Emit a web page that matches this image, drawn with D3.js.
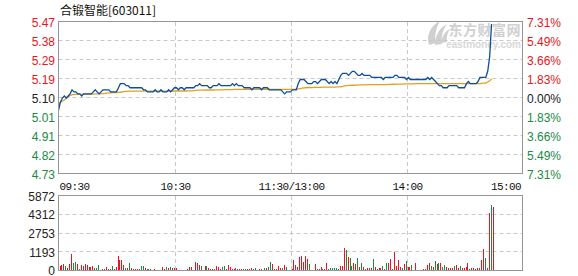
<!DOCTYPE html>
<html>
<head>
<meta charset="utf-8">
<script src="https://cdn.jsdelivr.net/npm/d3@7"></script>
<style>
    body { margin: 0; background: #fff; }
    text { font-family: "Liberation Sans", Arial, sans-serif; }
</style>
</head>
<body>
<div id="chart"></div>
<script>
var svgWidth = 578;
var svgHeight = 276;

var title = "合锻智能[603011]";
var preClose = 5.10;

// price axis labels, top to bottom
var priceTicks = ["5.47", "5.38", "5.29", "5.19", "5.10", "5.01", "4.91", "4.82", "4.73"];
var pctTicks = ["7.31%", "5.49%", "3.66%", "1.83%", "0.00%", "1.83%", "3.66%", "5.49%", "7.31%"];
var volTicks = ["0", "1193", "2753", "4312", "5872"];
var timeLabels = ["09:30", "10:30", "11:30/13:00", "14:00", "15:00"];
var timeMinutes = [0, 60, 120, 180, 240];

// one value per minute, 09:30 .. 14:44
var price = [
    5.04, 5.08, 5.10, 5.11, 5.10, 5.11, 5.12, 5.14, 5.13, 5.13, 5.12, 5.12, 5.11, 5.12, 5.12,
    5.12, 5.12, 5.12, 5.13, 5.14, 5.13, 5.12, 5.13, 5.14, 5.14, 5.14, 5.14, 5.13, 5.13, 5.13,
    5.13, 5.15, 5.17, 5.17, 5.17, 5.16, 5.16, 5.15, 5.15, 5.15, 5.15, 5.15, 5.15, 5.15, 5.14,
    5.14, 5.13, 5.13, 5.13, 5.13, 5.14, 5.13, 5.13, 5.14, 5.13, 5.13, 5.13, 5.14, 5.13, 5.14,
    5.15, 5.15, 5.14, 5.15, 5.15, 5.14, 5.15, 5.15, 5.15, 5.15, 5.15, 5.16, 5.16, 5.17, 5.16,
    5.16, 5.16, 5.16, 5.15, 5.15, 5.16, 5.16, 5.16, 5.17, 5.16, 5.16, 5.16, 5.16, 5.16, 5.16,
    5.17, 5.16, 5.17, 5.16, 5.16, 5.16, 5.15, 5.15, 5.15, 5.15, 5.14, 5.15, 5.15, 5.15, 5.15,
    5.14, 5.15, 5.15, 5.15, 5.14, 5.14, 5.14, 5.14, 5.14, 5.14, 5.14, 5.13, 5.12, 5.13, 5.13,
    5.13, 5.14, 5.14, 5.14, 5.17, 5.19, 5.19, 5.19, 5.18, 5.17, 5.17, 5.17, 5.18, 5.18, 5.17,
    5.18, 5.19, 5.19, 5.19, 5.18, 5.17, 5.18, 5.17, 5.18, 5.17, 5.19, 5.21, 5.22, 5.22, 5.22,
    5.21, 5.22, 5.23, 5.23, 5.22, 5.21, 5.21, 5.22, 5.21, 5.21, 5.21, 5.21, 5.20, 5.20, 5.20,
    5.20, 5.20, 5.20, 5.19, 5.20, 5.20, 5.20, 5.20, 5.20, 5.21, 5.21, 5.20, 5.20, 5.20, 5.20,
    5.19, 5.20, 5.19, 5.19, 5.19, 5.19, 5.19, 5.19, 5.19, 5.19, 5.19, 5.20, 5.19, 5.20, 5.19,
    5.18, 5.17, 5.16, 5.16, 5.15, 5.15, 5.15, 5.16, 5.16, 5.16, 5.16, 5.16, 5.15, 5.15, 5.15,
    5.15, 5.17, 5.18, 5.17, 5.17, 5.17, 5.17, 5.18, 5.20, 5.20, 5.20, 5.20, 5.23, 5.30, 5.46
];

var avgPrice = [
    5.065, 5.080, 5.085, 5.090, 5.097, 5.105, 5.112, 5.116, 5.117, 5.118, 5.118, 5.118, 5.118, 5.118, 5.118,
    5.118, 5.119, 5.119, 5.119, 5.120, 5.120, 5.120, 5.121, 5.121, 5.122, 5.124, 5.125, 5.125, 5.126, 5.126,
    5.126, 5.127, 5.128, 5.130, 5.131, 5.132, 5.132, 5.133, 5.133, 5.133, 5.133, 5.133, 5.133, 5.133, 5.133,
    5.133, 5.133, 5.133, 5.133, 5.133, 5.133, 5.133, 5.133, 5.133, 5.133, 5.133, 5.133, 5.133, 5.133, 5.134,
    5.134, 5.134, 5.134, 5.134, 5.134, 5.134, 5.134, 5.135, 5.135, 5.135, 5.136, 5.137, 5.138, 5.138, 5.138,
    5.138, 5.139, 5.139, 5.139, 5.139, 5.139, 5.140, 5.140, 5.140, 5.140, 5.140, 5.141, 5.141, 5.141, 5.141,
    5.141, 5.142, 5.142, 5.142, 5.142, 5.142, 5.142, 5.142, 5.142, 5.142, 5.142, 5.142, 5.142, 5.142, 5.142,
    5.142, 5.142, 5.142, 5.142, 5.142, 5.142, 5.142, 5.142, 5.142, 5.142, 5.142, 5.142, 5.142, 5.142, 5.142,
    5.142, 5.142, 5.142, 5.143, 5.144, 5.146, 5.148, 5.149, 5.150, 5.151, 5.151, 5.151, 5.152, 5.152, 5.152,
    5.152, 5.152, 5.153, 5.153, 5.153, 5.153, 5.153, 5.153, 5.153, 5.154, 5.154, 5.154, 5.157, 5.159, 5.160,
    5.161, 5.161, 5.162, 5.162, 5.163, 5.163, 5.164, 5.164, 5.164, 5.164, 5.165, 5.165, 5.165, 5.165, 5.165,
    5.165, 5.165, 5.165, 5.165, 5.165, 5.165, 5.166, 5.166, 5.167, 5.167, 5.168, 5.168, 5.168, 5.168, 5.169,
    5.169, 5.169, 5.169, 5.169, 5.170, 5.170, 5.170, 5.170, 5.170, 5.170, 5.170, 5.170, 5.170, 5.170, 5.170,
    5.170, 5.170, 5.170, 5.170, 5.170, 5.170, 5.170, 5.170, 5.170, 5.170, 5.170, 5.170, 5.170, 5.170, 5.170,
    5.170, 5.170, 5.170, 5.170, 5.170, 5.170, 5.170, 5.170, 5.170, 5.171, 5.172, 5.172, 5.178, 5.184, 5.192
];

var volume = [
    391, 470, 548, 391, 235, 548, 1331, 626, 705, 548, 156, 470, 391, 548, 470,
    313, 313, 391, 235, 235, 470, 78, 156, 156, 313, 156, 156, 391, 156, 313,
    1174, 861, 861, 470, 235, 235, 626, 235, 156, 156, 156, 156, 391, 391, 235,
    156, 156, 156, 78, 156, 78, 78, 78, 313, 156, 313, 235, 313, 235, 235,
    235, 78, 78, 78, 78, 78, 156, 313, 313, 78, 705, 626, 470, 391, 78,
    391, 391, 235, 156, 156, 156, 391, 313, 156, 313, 391, 156, 470, 313, 156,
    156, 235, 156, 156, 156, 156, 156, 156, 156, 235, 156, 235, 78, 156, 156,
    78, 235, 235, 313, 705, 548, 156, 156, 391, 235, 235, 470, 313, 78, 78,
    156, 861, 470, 313, 1096, 1174, 705, 1174, 940, 548, 78, 78, 548, 156, 156,
    313, 156, 156, 626, 156, 235, 235, 235, 235, 156, 391, 391, 1800, 1644, 1096,
    1018, 391, 626, 548, 1018, 313, 626, 313, 156, 235, 235, 235, 940, 313, 156,
    235, 235, 391, 156, 626, 626, 940, 156, 1487, 391, 861, 313, 235, 548, 783,
    313, 313, 470, 78, 626, 78, 78, 78, 156, 156, 470, 626, 391, 313, 783,
    548, 626, 626, 313, 470, 313, 235, 235, 235, 391, 470, 235, 391, 235, 235,
    313, 626, 156, 235, 235, 156, 235, 235, 861, 1722, 1018, 235, 4540, 5167, 5010
];

// r = up bar, g = down bar
var volDir = [
    "r","r","r","g","r","r","r","g","g","r","g","r","r","r","r",
    "r","r","r","g","g","g","r","r","r","r","g","r","g","r","r",
    "r","r","r","r","g","r","g","r","r","r","r","r","g","g","r",
    "g","g","r","r","r","r","g","g","r","r","g","r","g","r","r",
    "r","g","g","r","r","r","r","r","r","g","r","r","r","g","r",
    "r","g","r","r","r","g","r","r","r","g","g","r","r","r","r",
    "r","r","g","r","r","g","g","r","r","r","r","g","r","r","r",
    "r","g","r","g","g","r","g","r","r","r","g","r","g","r","r",
    "r","r","r","r","r","r","r","r","r","g","r","r","r","r","r",
    "r","r","r","r","g","g","g","g","g","r","r","r","r","g","r",
    "g","g","r","r","g","r","g","r","g","r","r","r","g","r","g",
    "r","r","g","r","g","r","r","g","r","r","r","r","g","r","g",
    "r","r","g","r","r","r","r","r","r","r","r","r","g","r","g",
    "r","g","r","g","g","r","r","r","r","g","r","r","g","r","r",
    "r","r","r","r","r","r","r","r","r","r","g","r","r","g","r"
];

var red = "#e8151b";
var green = "#1a8a45";
var gridColor = "#c9c9c9";
var borderColor = "#969696";

var svg = d3.select("#chart")
    .append("svg")
    .attr("width", svgWidth)
    .attr("height", svgHeight);

// plot box geometry
var left = 58.5, right = 522.5;
var pTop = 22, pBottom = 174;
var vTop = 196, vBottom = 271;

var xScale = d3.scaleLinear()
    .domain([0, 240])
    .range([left, right]);

var yScale = d3.scaleLinear()
    .domain([4.73, 5.47])
    .range([pBottom, pTop]);

var tickPos = d3.scalePoint()
    .domain(d3.range(priceTicks.length))
    .range([pTop, pBottom]);

var vScale = d3.scaleLinear()
    .domain([0, 5872])
    .range([vBottom, vTop]);

var vTickPos = d3.scalePoint()
    .domain(d3.range(volTicks.length))
    .range([vBottom, vTop]);

function labelColor(i, mid) {
    if (i < mid) return red;
    if (i > mid) return green;
    return "#222";
}

// title
svg.append("text")
    .attr("x", 60)
    .attr("y", 15)
    .attr("font-size", "12px")
    .attr("fill", "#111")
    .style("font-family", "'Noto Sans CJK SC', 'Liberation Sans', sans-serif")
    .text(title);

// watermark
var wm = svg.append("g").attr("fill", "#d0d0d0");
wm.append("path")
    .attr("d", "M429,45 C426,36 430,26 440,21 C436,28 434,36 436,43 Z M435,45 C435,36 439,28 447,24 C442,31 441,38 442,44 Z M441,43 C442,36 445,31 450,29 C447,34 446,38 447,42 Z");
wm.append("text")
    .attr("x", 521)
    .attr("y", 35)
    .attr("text-anchor", "end")
    .attr("font-size", "14px")
    .attr("font-weight", "bold")
    .style("font-family", "'Noto Sans CJK SC', sans-serif")
    .style("letter-spacing", "0.5px")
    .text("东方财富网");
wm.append("text")
    .attr("x", 521)
    .attr("y", 48)
    .attr("text-anchor", "end")
    .attr("font-size", "10px")
    .attr("font-weight", "bold")
    .attr("fill", "#d8d8d8")
    .text("eastmoney.com");

// horizontal grid, price panel
svg.append("g")
    .selectAll("line")
    .data(d3.range(1, priceTicks.length - 1))
    .enter()
    .append("line")
    .attr("x1", left)
    .attr("x2", right)
    .attr("y1", d => Math.round(tickPos(d)) - 0.5)
    .attr("y2", d => Math.round(tickPos(d)) - 0.5)
    .attr("stroke", gridColor)
    .attr("stroke-dasharray", "4,3");

// horizontal grid, volume panel
svg.append("g")
    .selectAll("line")
    .data(d3.range(1, volTicks.length - 1))
    .enter()
    .append("line")
    .attr("x1", left)
    .attr("x2", right)
    .attr("y1", d => Math.round(vTickPos(d)) - 0.5)
    .attr("y2", d => Math.round(vTickPos(d)) - 0.5)
    .attr("stroke", gridColor)
    .attr("stroke-dasharray", "4,3");

// vertical grid in both panels
[[pTop, pBottom], [vTop, vBottom]].forEach(function (span) {
    svg.append("g")
        .selectAll("line")
        .data(timeMinutes.slice(1, 4))
        .enter()
        .append("line")
        .attr("x1", d => Math.ceil(xScale(d)) + 0.5)
        .attr("x2", d => Math.ceil(xScale(d)) + 0.5)
        .attr("y1", span[0])
        .attr("y2", span[1])
        .attr("stroke", gridColor)
        .attr("stroke-dasharray", "4,3");
});

// volume bars
svg.append("g")
    .selectAll("rect")
    .data(volume)
    .enter()
    .append("rect")
    .attr("x", (d, i) => Math.round(xScale(i) + 1))
    .attr("y", d => vScale(d))
    .attr("width", 1)
    .attr("height", d => vBottom - vScale(d))
    .attr("fill", (d, i) => volDir[i] === "r" ? red : green);

// average price line
var line = d3.line()
    .x((d, i) => xScale(i))
    .y(d => yScale(d));

svg.append("path")
    .datum(avgPrice)
    .attr("d", line)
    .attr("fill", "none")
    .attr("stroke", "#e0a11e")
    .attr("stroke-width", 1.3);

// price line
svg.append("path")
    .datum(price)
    .attr("d", line)
    .attr("fill", "none")
    .attr("stroke", "#0b4e9e")
    .attr("stroke-width", 1.3);

// panel borders
svg.append("rect")
    .attr("x", left)
    .attr("y", pTop - 0.5)
    .attr("width", right - left)
    .attr("height", pBottom - pTop)
    .attr("fill", "none")
    .attr("stroke", borderColor);

svg.append("rect")
    .attr("x", left)
    .attr("y", vTop - 0.5)
    .attr("width", right - left)
    .attr("height", vBottom - vTop)
    .attr("fill", "none")
    .attr("stroke", borderColor);

// left price labels
svg.append("g")
    .selectAll("text")
    .data(priceTicks)
    .enter()
    .append("text")
    .attr("x", 55)
    .attr("y", (d, i) => tickPos(i) + 4.5)
    .attr("text-anchor", "end")
    .attr("font-size", "12px")
    .attr("fill", (d, i) => labelColor(i, 4))
    .text(d => d);

// right percent labels
svg.append("g")
    .selectAll("text")
    .data(pctTicks)
    .enter()
    .append("text")
    .attr("x", 527)
    .attr("y", (d, i) => tickPos(i) + 4.5)
    .attr("font-size", "12px")
    .attr("fill", (d, i) => labelColor(i, 4))
    .text(d => d);

// volume labels
svg.append("g")
    .selectAll("text")
    .data(volTicks)
    .enter()
    .append("text")
    .attr("x", 55)
    .attr("y", (d, i) => vTickPos(i) + (i === 0 ? 3.5 : 4.5))
    .attr("text-anchor", "end")
    .attr("font-size", "12px")
    .attr("fill", "#222")
    .text(d => d);

// time labels
svg.append("g")
    .selectAll("text")
    .data(timeLabels)
    .enter()
    .append("text")
    .attr("x", (d, i) => i === 0 ? 59.5 : (i === 4 ? 521 : Math.ceil(xScale(timeMinutes[i])) + 0.5))
    .attr("y", 190)
    .attr("text-anchor", (d, i) => i === 0 ? "start" : (i === 4 ? "end" : "middle"))
    .attr("font-size", "11px")
    .attr("fill", "#111")
    .style("font-family", "'Liberation Mono', 'DejaVu Sans Mono', monospace")
    .style("letter-spacing", "-0.6px")
    .text(d => d);
</script>
</body>
</html>
